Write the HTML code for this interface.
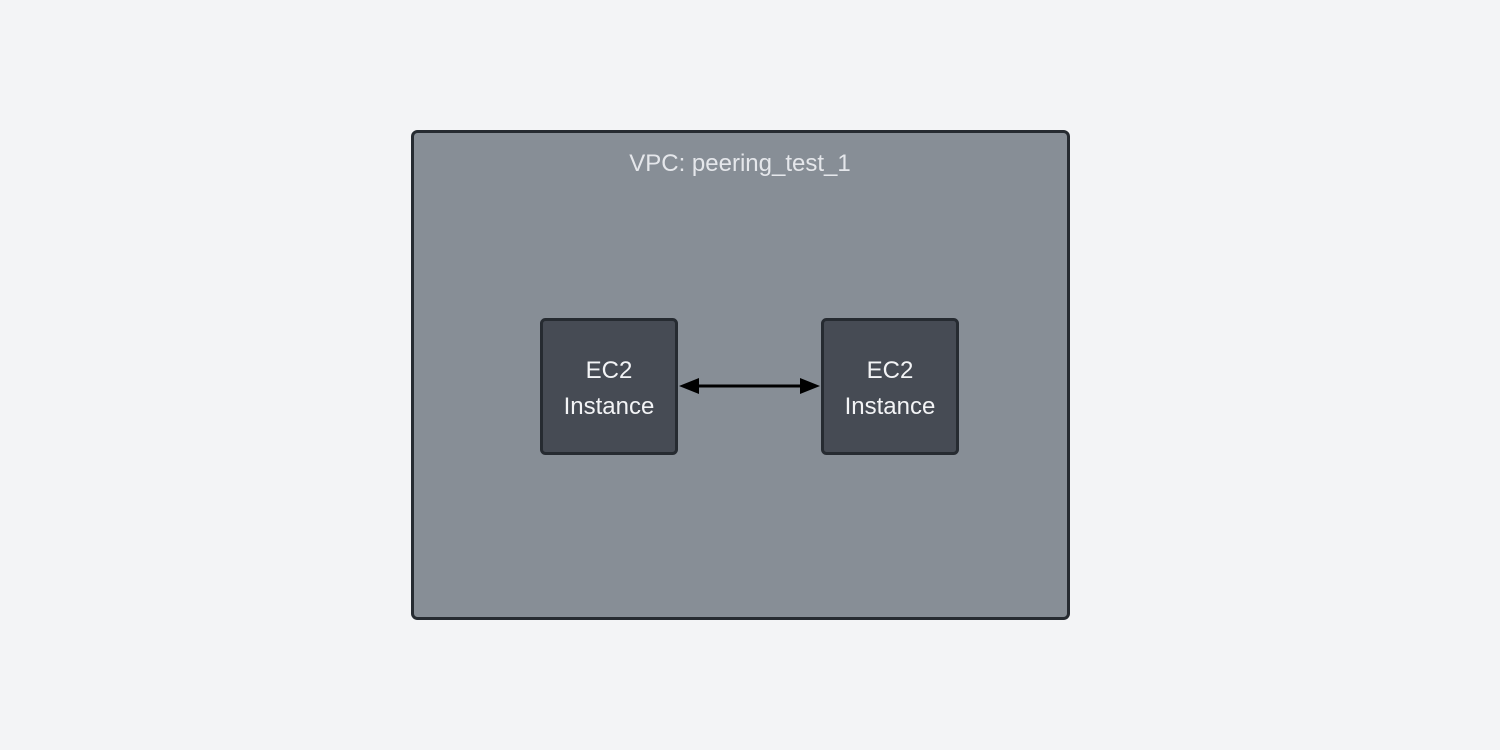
<!DOCTYPE html>
<html><head><meta charset="utf-8"><style>
html,body{margin:0;padding:0;background:#f3f4f6;}
svg{display:block;}
text{font-family:"Liberation Sans",sans-serif;}
</style></head><body>
<svg width="1500" height="750" viewBox="0 0 1500 750">
<rect width="1500" height="750" fill="#f3f4f6"/>
<rect x="412.5" y="131.5" width="656" height="487" rx="5" fill="#878e96" stroke="#262b31" stroke-width="3"/>
<text x="740" y="171" font-size="24" fill="#e5e7eb" text-anchor="middle">VPC: peering_test_1</text>
<rect x="541.5" y="319.5" width="135" height="134" rx="4" fill="#464b54" stroke="#262b31" stroke-width="3"/>
<text x="609" y="378" font-size="24" fill="#f3f4f6" text-anchor="middle">EC2</text>
<text x="609" y="414" font-size="24" fill="#f3f4f6" text-anchor="middle">Instance</text>
<rect x="822.5" y="319.5" width="135" height="134" rx="4" fill="#464b54" stroke="#262b31" stroke-width="3"/>
<text x="890" y="378" font-size="24" fill="#f3f4f6" text-anchor="middle">EC2</text>
<text x="890" y="414" font-size="24" fill="#f3f4f6" text-anchor="middle">Instance</text>
<line x1="690" y1="386" x2="808" y2="386" stroke="#000" stroke-width="3"/>
<polygon points="679,386 699,378 699,394" fill="#000"/>
<polygon points="820,386 800,378 800,394" fill="#000"/>
</svg>
</body></html>
